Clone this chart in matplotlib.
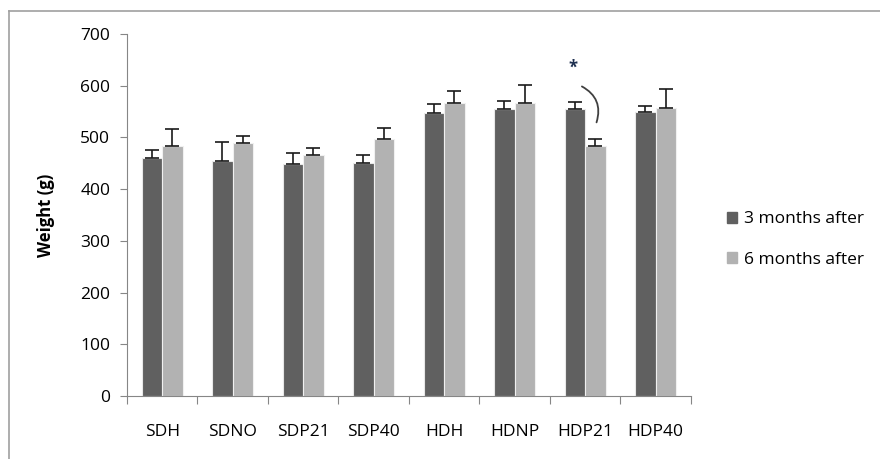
import matplotlib
matplotlib.use("Agg")
import matplotlib.pyplot as plt
from matplotlib.lines import Line2D
import numpy as np

groups = ["SDH", "SDNO", "SDP21", "SDP40", "HDH", "HDNP", "HDP21", "HDP40"]
months3 = [460, 455, 448, 451, 547, 554, 554, 550]
months3_err = [15, 37, 22, 15, 18, 17, 15, 11]
months6 = [484, 489, 466, 497, 567, 567, 484, 556]
months6_err = [33, 14, 13, 21, 22, 35, 12, 37]

plt.rcParams["font.family"] = ["Open Sans", "DejaVu Sans"]

fig = plt.figure(figsize=(8.8, 4.59), dpi=100)
ax = fig.add_axes([0.1443, 0.1373, 0.6407, 0.7887])

x = np.arange(len(groups))
w = 0.29
dark = "#606060"
light = "#b2b2b2"
ax.bar(x - w / 2, months3, w, color=dark, edgecolor="#e8e8e8", linewidth=0.8,
       label="3 months after", zorder=2)
ax.bar(x + w / 2, months6, w, color=light, edgecolor="#f0f0f0", linewidth=0.8,
       label="6 months after", zorder=2)
zeros = [0] * len(groups)
ax.errorbar(x - w / 2, months3, yerr=[zeros, months3_err], fmt="none",
            ecolor="#1a1a1a", elinewidth=1.2, capsize=5, capthick=1.2, zorder=3)
ax.errorbar(x + w / 2, months6, yerr=[zeros, months6_err], fmt="none",
            ecolor="#1a1a1a", elinewidth=1.2, capsize=5, capthick=1.2, zorder=3)

# significance mark on HDP21
ax.text(5.83, 634, "*", ha="center", va="center", fontsize=12,
        fontweight="bold", color="#1f3050")
ax.annotate("", xy=(6.15, 524), xytext=(5.92, 601),
            arrowprops=dict(arrowstyle="-", color="#404040", lw=1.3,
                            connectionstyle="arc3,rad=-0.45"))

ax.set_xlim(-0.5, len(groups) - 0.5)
ax.set_ylim(0, 700)
ax.set_yticks(range(0, 701, 100))
ax.set_xticks(np.arange(-0.5, len(groups), 1.0))
ax.set_xticklabels([])
ax.set_xticks(x, minor=True)
ax.set_xticklabels(groups, minor=True)
ax.tick_params(axis="x", which="minor", length=0, pad=20, labelsize=12.5)
ax.tick_params(axis="x", which="major", length=6, color="#868686", direction="out")
ax.tick_params(axis="y", length=5, color="#868686", labelsize=12.5, pad=7)
for side in ["top", "right"]:
    ax.spines[side].set_visible(False)
for side in ["left", "bottom"]:
    ax.spines[side].set_color("#868686")
ax.set_ylabel("Weight (g)", fontsize=12, fontweight="bold", labelpad=18)

handles = [plt.Rectangle((0, 0), 1, 1, color=dark),
           plt.Rectangle((0, 0), 1, 1, color=light)]
fig.legend(handles, ["3 months after", "6 months after"], loc="center left",
           bbox_to_anchor=(0.808, 0.478), frameon=False, fontsize=12.5,
           handlelength=0.6, handleheight=0.6, handletextpad=0.4, labelspacing=1.4)

# outer chart frame (top and left edges visible)
fig.add_artist(Line2D([9 / 880, 1.0], [1 - 11 / 459, 1 - 11 / 459],
                      color="#a0a0a0", lw=1.2, transform=fig.transFigure))
fig.add_artist(Line2D([9 / 880, 9 / 880], [0, 1 - 11 / 459],
                      color="#a0a0a0", lw=1.2, transform=fig.transFigure))

fig.savefig("out.png", dpi=100)
